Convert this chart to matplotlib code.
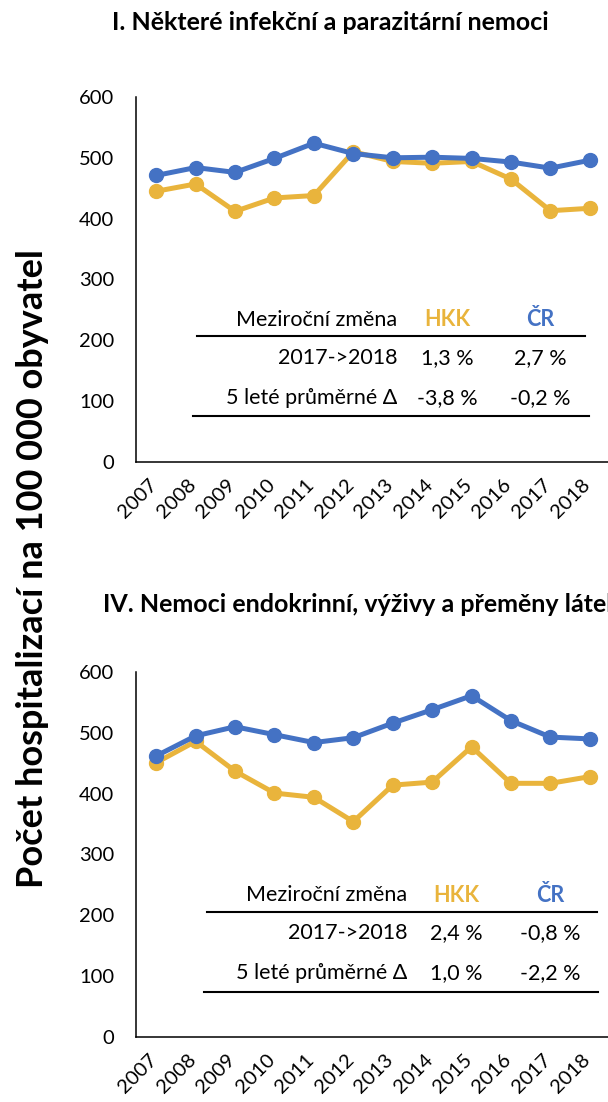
import matplotlib
matplotlib.use("Agg")
import matplotlib.pyplot as plt
import matplotlib.transforms as mtransforms

plt.rcParams['font.family'] = ['Lato', 'DejaVu Sans']

years = [str(y) for y in range(2007, 2019)]

# I. Některé infekční a parazitární nemoci
inf_hkk = [445, 457, 412, 434, 438, 510, 494, 491, 494, 465, 413, 417]
inf_cr = [471, 484, 476, 499, 524, 507, 500, 501, 499, 493, 483, 496]
inf_tab = [["2017->2018", "1,3 %", "2,7 %"],
           ["5 leté průměrné \u0394", "-3,8 %", "-0,2 %"]]

# IV. Nemoci endokrinní, výživy a přeměny látek
end_hkk = [451, 486, 437, 401, 394, 354, 414, 419, 477, 417, 417, 428]
end_cr = [462, 495, 510, 497, 484, 492, 516, 538, 561, 520, 493, 490]
end_tab = [["2017->2018", "2,4 %", "-0,8 %"],
           ["5 leté průměrné \u0394", "1,0 %", "-2,2 %"]]

yticks = [0, 100, 200, 300, 400, 500, 600]
c_hkk = "#E9B43C"
c_cr = "#4472C4"

fig = plt.figure(figsize=(6.08, 11.02), dpi=100)


def panel(rect, hkk, cr, tab, xs, line1, line2):
    ax = fig.add_axes(rect)
    x = list(range(len(years)))
    ax.plot(x, hkk, '-o', color=c_hkk, lw=3.6, ms=10, zorder=3)
    ax.plot(x, cr, '-o', color=c_cr, lw=3.6, ms=10, zorder=4)
    ax.set_xlim(-0.5, len(years) - 0.5)
    ax.set_ylim(0, 600)
    ax.set_yticks(yticks)
    ax.set_yticklabels([str(v) for v in yticks], fontsize=14.5)
    ax.set_xticks(x)
    ax.set_xticklabels(years, fontsize=14.5, rotation=45, ha='right',
                       rotation_mode='anchor')
    ax.tick_params(axis='y', length=0, pad=16)
    ax.tick_params(axis='x', length=0, pad=10)
    # excel puts the rotated years a bit left of the category centre
    shift = mtransforms.ScaledTranslation(-6 / 72, 0, fig.dpi_scale_trans)
    for lab in ax.get_xticklabels():
        lab.set_transform(lab.get_transform() + shift)
    for s in ['top', 'right']:
        ax.spines[s].set_visible(False)
    for s in ['left', 'bottom']:
        ax.spines[s].set_linewidth(1.1)
    ax.patch.set_alpha(0)

    # small table with the year-on-year changes
    tx, thkk, tcr = xs
    ax.text(tx, 0.389, "Meziroční změna", transform=ax.transAxes,
            ha='right', va='center', fontsize=15.5)
    ax.text(thkk, 0.389, "HKK", transform=ax.transAxes, ha='center',
            va='center', fontsize=15.5, fontweight='bold', color=c_hkk)
    ax.text(tcr, 0.389, "ČR", transform=ax.transAxes, ha='center',
            va='center', fontsize=15.5, fontweight='bold', color=c_cr)
    ax.plot(line1[:2], [line1[2]] * 2, color='black', lw=1.5,
            transform=ax.transAxes, clip_on=False)
    for row, yy in zip(tab, [0.285, 0.174]):
        ax.text(tx, yy, row[0], transform=ax.transAxes, ha='right',
                va='center', fontsize=15.5)
        ax.text(thkk, yy, row[1], transform=ax.transAxes, ha='center',
                va='center', fontsize=15.5)
        ax.text(tcr, yy, row[2], transform=ax.transAxes, ha='center',
                va='center', fontsize=15.5)
    ax.plot(line2[:2], [line2[2]] * 2, color='black', lw=1.5,
            transform=ax.transAxes, clip_on=False)
    return ax


panel([0.2245, 0.5808, 0.778, 0.3312], inf_hkk, inf_cr, inf_tab,
      (0.552, 0.657, 0.854), (0.127, 0.949, 0.345), (0.120, 0.956, 0.126))
panel([0.2245, 0.0590, 0.778, 0.3312], end_hkk, end_cr, end_tab,
      (0.573, 0.677, 0.875), (0.148, 0.973, 0.342), (0.142, 0.975, 0.123))

fig.text(0.543, 0.980, "I. Některé infekční a parazitární nemoci",
         ha='center', va='center', fontsize=18, fontweight='bold')
# the second title runs past the right edge, as in the original
fig.text(0.169, 0.451, "IV. Nemoci endokrinní, výživy a přeměny látek",
         ha='left', va='center', fontsize=18, fontweight='bold')
fig.text(0.054, 0.484, "Počet hospitalizací na 100 000 obyvatel",
         ha='center', va='center', rotation=90, fontsize=26,
         fontweight='bold')

fig.savefig("out.png", dpi=100)
